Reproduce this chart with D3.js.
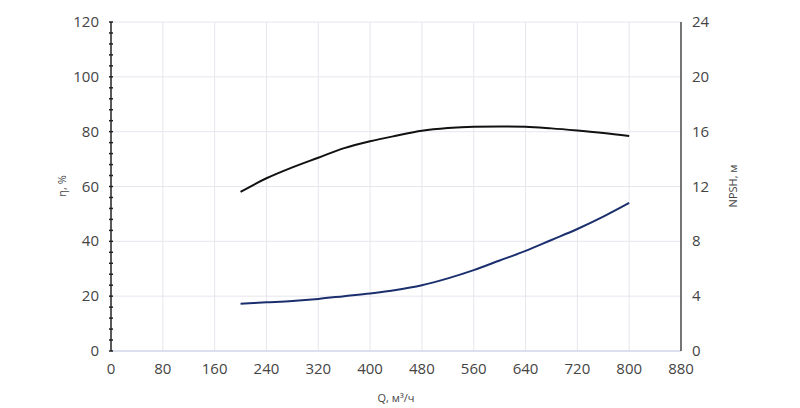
<!DOCTYPE html>
<html><head><meta charset="utf-8">
<script src="https://cdn.jsdelivr.net/npm/d3@7"></script>
<style>body{margin:0;background:#fff;font-family:"Open Sans",sans-serif;}</style>
</head><body><div id="container"></div>
<script>
let flow = [200, 240, 280, 320, 360, 400, 440, 480, 520, 560, 600, 640, 680, 720, 760, 800];
let efficiency = [58, 63, 67, 70.5, 74, 76.5, 78.5, 80.3, 81.3, 81.8, 81.9, 81.8, 81.2, 80.4, 79.5, 78.4];
let npsh = [3.45, 3.55, 3.65, 3.8, 4.0, 4.2, 4.45, 4.8, 5.3, 5.9, 6.6, 7.3, 8.1, 8.9, 9.8, 10.8];
let xTicks = [0, 80, 160, 240, 320, 400, 480, 560, 640, 720, 800, 880];
let leftTicks = [0, 20, 40, 60, 80, 100, 120];
let rightTicks = [0, 4, 8, 12, 16, 20, 24];

let svg = d3.select("#container").append("svg").attr("width", 800).attr("height", 408);
let x = d3.scaleLinear().domain([0, 880]).range([111, 681]);
let yL = d3.scaleLinear().domain([0, 120]).range([351, 22]);
let yR = d3.scaleLinear().domain([0, 24]).range([351, 22]);

// grid
svg.append("g").selectAll("line").data(xTicks.slice(1)).enter().append("line")
  .attr("x1", x).attr("x2", x).attr("y1", 22).attr("y2", 351)
  .attr("stroke", "#e6e6ee").attr("stroke-width", 1);
svg.append("g").selectAll("line").data(leftTicks.slice(1)).enter().append("line")
  .attr("x1", 111).attr("x2", 681).attr("y1", yL).attr("y2", yL)
  .attr("stroke", "#e6e6ee").attr("stroke-width", 1);
svg.append("line").attr("x1", 111).attr("x2", 681).attr("y1", 351).attr("y2", 351)
  .attr("stroke", "#cfd6ea").attr("stroke-width", 1.5);

// left axis with minor dots
svg.append("line").attr("x1", 111).attr("x2", 111).attr("y1", 22).attr("y2", 351).attr("stroke", "#222").attr("stroke-width", 1.5);
svg.append("g").selectAll("line").data(d3.range(0, 121, 4)).enter().append("line")
  .attr("x1", 109).attr("x2", 113).attr("y1", yL).attr("y2", yL).attr("stroke", "#222").attr("stroke-width", 1.5);
svg.append("line").attr("x1", 681).attr("x2", 681).attr("y1", 22).attr("y2", 351).attr("stroke", "#222").attr("stroke-width", 1.2);

let txt = {fill: "#444", size: 15};
svg.append("g").selectAll("text").data(leftTicks).enter().append("text")
  .attr("x", 99).attr("y", d => yL(d) + 5).attr("text-anchor", "end")
  .style("font-size", "15px").attr("fill", "#444").text(d => d);
svg.append("g").selectAll("text").data(rightTicks).enter().append("text")
  .attr("x", 692).attr("y", d => yR(d) + 5)
  .style("font-size", "15px").attr("fill", "#444").text(d => d);
svg.append("g").selectAll("text").data(xTicks).enter().append("text")
  .attr("x", x).attr("y", 374).attr("text-anchor", "middle")
  .style("font-size", "15px").attr("fill", "#444").text(d => d);

svg.append("text").attr("x", 396).attr("y", 402).attr("text-anchor", "middle")
  .style("font-size", "11px").attr("fill", "#444").text("Q, м³/ч");
svg.append("text").attr("transform", "translate(66,186) rotate(-90)").attr("text-anchor", "middle")
  .style("font-size", "11px").attr("fill", "#444").text("η, %");
svg.append("text").attr("transform", "translate(737,186) rotate(-90)").attr("text-anchor", "middle")
  .style("font-size", "11px").attr("fill", "#444").text("NPSH, м");

let lineEff = d3.line().x((d, i) => x(flow[i])).y(d => yL(d)).curve(d3.curveMonotoneX);
let lineN = d3.line().x((d, i) => x(flow[i])).y(d => yR(d)).curve(d3.curveMonotoneX);
svg.append("path").attr("d", lineEff(efficiency)).attr("fill", "none").attr("stroke", "#111").attr("stroke-width", 2);
svg.append("path").attr("d", lineN(npsh)).attr("fill", "none").attr("stroke", "#1b2f6e").attr("stroke-width", 2);
</script></body></html>
